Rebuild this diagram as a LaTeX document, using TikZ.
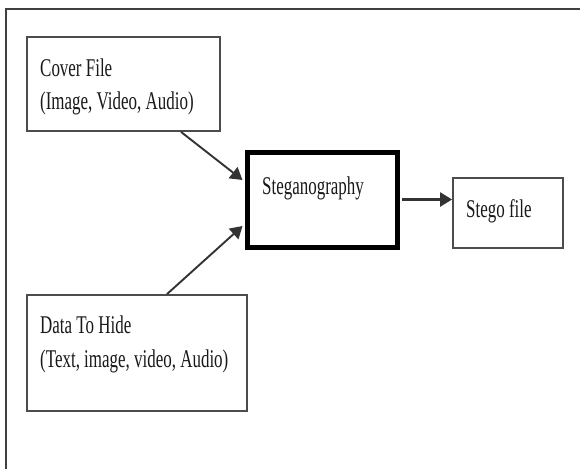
\documentclass[tikz,border=0pt]{standalone}
\usepackage{fontspec}
\setmainfont[FakeStretch=0.665]{Liberation Serif}
\usetikzlibrary{arrows.meta}
\tikzset{
  box/.style={draw=black!70, line width=1.8pt, inner sep=0pt, fill=white},
  mainbox/.style={draw=black, line width=5pt, inner sep=0pt, fill=white},
  txt/.style={anchor=base west, inner sep=0pt, text=black!90,
    font=\fontsize{25.5}{30}\selectfont},
  arr/.style={draw=black!80, line width=1.9pt,
    -{Triangle[length=12pt,width=14pt]}},
  frame/.style={draw=black!75, line width=2pt}
}
\begin{document}
\begin{tikzpicture}[x=1pt, y=-1pt]
  \useasboundingbox (0,0) rectangle (580,468);
  % outer frame
  \draw[frame] (6,472) -- (6,9) -- (584,9);

  % boxes
  \node[box, minimum width=193pt, minimum height=94pt] (cover) at (123.5,84) {};
  \node[box, minimum width=220pt, minimum height=116pt] (data) at (137,353) {};
  \node[mainbox, minimum width=150pt, minimum height=95pt] (steg) at (322,199.5) {};
  \node[box, minimum width=110pt, minimum height=70pt] (stego) at (508,213) {};

  % labels
  \node[txt] (cover1) at (40,77) {Cover File};
  \node[txt] (cover2) at (40,110) {(Image, Video, Audio)};
  \node[txt] (data1) at (40,333) {Data To Hide};
  \node[txt] (data2) at (40,367) {(Text, image, video, Audio)};
  \node[txt] (stegtxt) at (262,194) {Steganography};
  \node[txt] (stegotxt) at (466,217) {Stego file};

  % connectors
  \draw[arr] ([xshift=57.5pt]cover.south) -- ([yshift=19.5pt,xshift=-2pt]steg.west);
  \draw[arr] ([xshift=30pt]data.north) -- ([yshift=-26.5pt,xshift=-2pt]steg.west);
  \draw[arr, line width=2.4pt] ([xshift=2.5pt]steg.east) -- (steg.east -| stego.west);
\end{tikzpicture}
\end{document}
